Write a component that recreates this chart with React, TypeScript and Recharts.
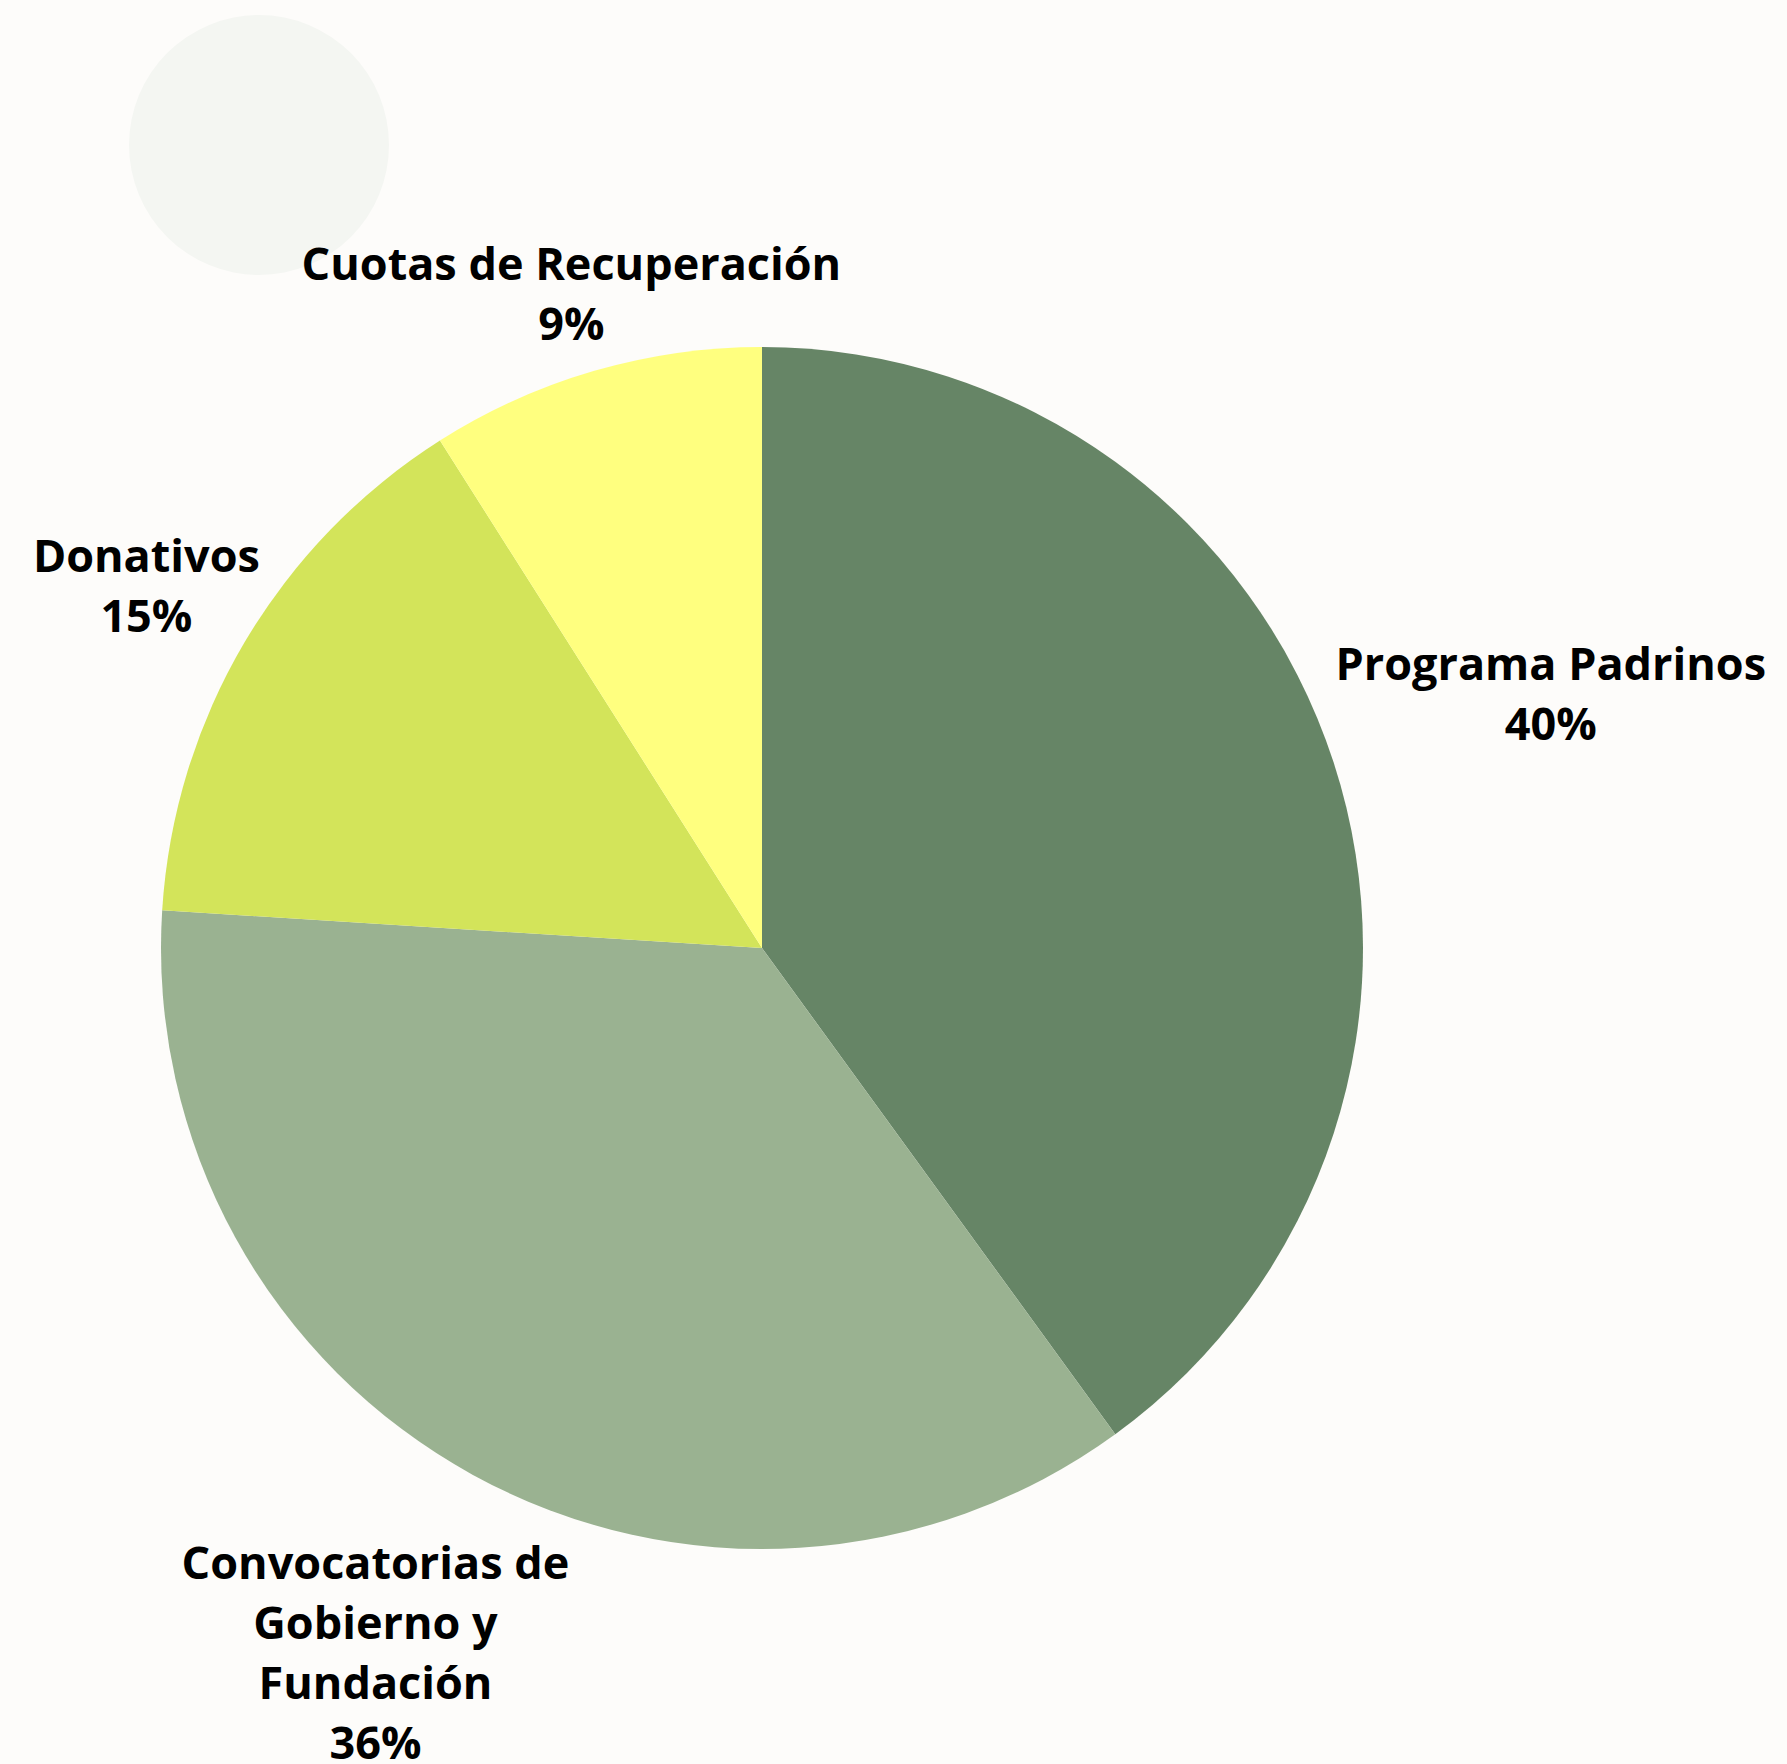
import React from "react";
import { PieChart, Pie, Cell } from "recharts";

const categories = ["Programa Padrinos", "Convocatorias de Gobierno y Fundación", "Donativos", "Cuotas de Recuperación"];
const values = [40, 36, 15, 9];
const labelLines = [["Programa Padrinos"], ["Convocatorias de", "Gobierno y", "Fundación"], ["Donativos"], ["Cuotas de Recuperación"]];
const colors = ["#668566", "#9AB291", "#D3E45A", "#FFFF7F"];
const labelDistance = [1.38, 1.335, 1.19, 1.137];

const data = categories.map((name, i) => ({ name, value: values[i] }));
const RAD = Math.PI / 180;

const renderLabel = (props: any) => {
  const { cx, cy, midAngle, outerRadius, index } = props;
  const r = outerRadius * labelDistance[index];
  const x = cx + r * Math.cos(-midAngle * RAD);
  const y = cy + r * Math.sin(-midAngle * RAD);
  const lines = [...labelLines[index], `${values[index]}%`];
  const spacing = 60;
  const start = y - ((lines.length - 1) * spacing) / 2;
  return (
    <text
      key={`lbl-${index}`}
      x={x}
      y={start}
      textAnchor="middle"
      dominantBaseline="central"
      fontFamily="'Open Sans', 'Noto Sans', sans-serif"
      fontWeight={700}
      fontSize={45}
      fill="#000000"
    >
      {lines.map((l, j) => (
        <tspan key={j} x={x} y={start + j * spacing}>
          {l}
        </tspan>
      ))}
    </text>
  );
};

export default function App() {
  return (
    <div style={{ position: "absolute", left: 0, top: 0, width: 1787, height: 1764, background: "#FDFCFA", overflow: "hidden" }}>
      <div
        style={{
          position: "absolute",
          left: 259 - 130,
          top: 145 - 130,
          width: 260,
          height: 260,
          borderRadius: "50%",
          background: "#F4F6F2",
        }}
      />
      <div style={{ position: "absolute", left: 0, top: 0 }}>
        <PieChart width={1787} height={1764} margin={{ top: 0, right: 0, bottom: 0, left: 0 }}>
          <Pie
            data={data}
            dataKey="value"
            nameKey="name"
            cx={762}
            cy={948}
            outerRadius={601}
            startAngle={90}
            endAngle={-270}
            stroke="none"
            label={renderLabel}
            labelLine={false}
            isAnimationActive={false}
          >
            {data.map((d, i) => (
              <Cell key={d.name} fill={colors[i]} />
            ))}
          </Pie>
        </PieChart>
      </div>
    </div>
  );
}
